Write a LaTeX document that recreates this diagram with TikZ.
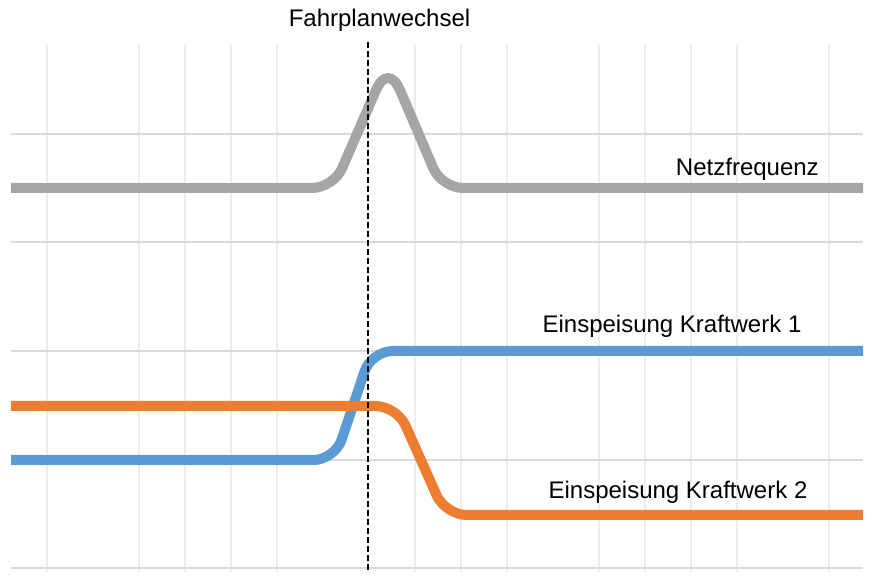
\documentclass[tikz,border=0pt]{standalone}
\usepackage{fontspec}
\setmainfont{Liberation Sans}
\usepackage{tikz}
\usetikzlibrary{positioning}
\definecolor{netzgrau}{HTML}{A5A5A5}
\definecolor{kwblau}{HTML}{5B9BD5}
\definecolor{kworange}{HTML}{ED7D31}
\definecolor{gitterh}{HTML}{D9D9D9}
\definecolor{gitterv}{HTML}{EDEDED}

\begin{document}
\begin{tikzpicture}[x=0.75pt, y=-0.75pt,
		every node/.style={font=\fontsize{18}{22}\selectfont, inner sep=0pt},
		hline/.style={draw=gitterh, line width=1pt},
		vline/.style={draw=gitterv, line width=0.9pt},
		kurve/.style={line width=7.5pt, rounded corners=16},
		wechsel/.style={line width=1.1pt, dash pattern=on 4.5pt off 2.25pt}]
		\useasboundingbox (0,0) rectangle (879,584);
		\foreach \x in {47,139,185,231,277,415,461,507,599,645,691,737,829} {
			\draw [vline] (\x,44) -- (\x,572);
		}
		\foreach \y in {134,242,351,460,568} {
			\draw [hline] (11,\y) -- (863,\y);
		}
		% Netzfrequenz mit Spitze
		\draw [kurve, netzgrau] (11,188) -- (333.5,188) -- (367.4,110)
			.. controls (382.9,74) and (393.1,74) .. (408.5,110)
			-- (441.7,188) -- (863,188);
		\draw [kurve, kwblau] (11,460) -- (334.8,460) -- (371.4,351) -- (863,351);
		\draw [kurve, kworange] (11,406) -- (396.8,406) -- (445.4,515) -- (863,515);
		\draw [wechsel] (368,42) -- (368,572);
		\node [anchor=base] (titel) at (379.5,27) {Fahrplanwechsel};
		\node [anchor=base east] (netz) at (819,176) {Netzfrequenz};
		\node [anchor=base] (kw1) at (672,333) {Einspeisung Kraftwerk 1};
		\node [anchor=base] (kw2) at (678,499) {Einspeisung Kraftwerk 2};
	\end{tikzpicture}
\end{document}
